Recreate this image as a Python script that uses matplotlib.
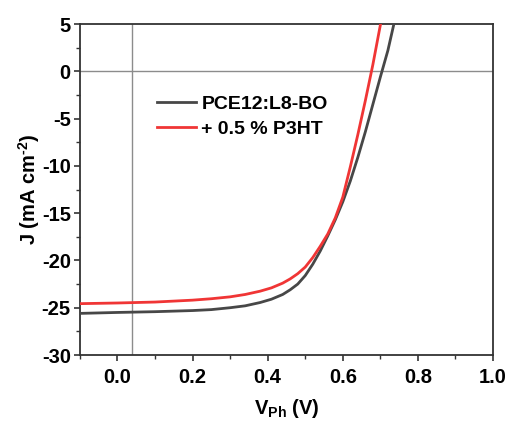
import matplotlib
matplotlib.use("Agg")
import matplotlib.pyplot as plt
from matplotlib.ticker import MultipleLocator

plt.rcParams['font.family'] = ['Liberation Sans', 'DejaVu Sans']
plt.rcParams['font.weight'] = 'bold'
plt.rcParams['axes.unicode_minus'] = False
plt.rcParams['mathtext.fontset'] = 'custom'
plt.rcParams['mathtext.rm'] = 'Liberation Sans:bold'
plt.rcParams['mathtext.default'] = 'rm'

# J-V data (V in volts, J in mA cm^-2)
v_ref = [-0.1, 0.0, 0.1, 0.2, 0.25, 0.3, 0.34, 0.38, 0.41, 0.44, 0.46, 0.48, 0.50,
         0.52, 0.54, 0.56, 0.58, 0.60, 0.62, 0.64, 0.66, 0.68, 0.70, 0.72, 0.736]
j_ref = [-25.6, -25.5, -25.42, -25.3, -25.2, -25.0, -24.8, -24.45, -24.1, -23.6, -23.1,
         -22.5, -21.6, -20.4, -19.0, -17.4, -15.7, -13.8, -11.6, -9.1, -6.4, -3.5,
         -0.6, 2.2, 5.0]

v_p3ht = [-0.1, 0.0, 0.1, 0.2, 0.25, 0.3, 0.34, 0.38, 0.41, 0.44, 0.46, 0.48, 0.50,
          0.52, 0.54, 0.56, 0.58, 0.60, 0.62, 0.64, 0.66, 0.68, 0.70]
j_p3ht = [-24.57, -24.5, -24.4, -24.2, -24.05, -23.85, -23.6, -23.25, -22.9, -22.4,
          -21.95, -21.4, -20.7, -19.7, -18.5, -17.2, -15.5, -13.3, -10.1, -6.7, -3.1,
          0.7, 4.9]

labels = ["PCE12:L8-BO", "+ 0.5 % P3HT"]
colors = ["#474747", "#f03535"]
x_marker = 0.039

fig = plt.figure(figsize=(5.12, 4.25), dpi=100)
ax = fig.add_axes([0.156, 0.1647, 0.807, 0.7788])

ax.axhline(0, color="#8c8c8c", lw=1.0, zorder=1)
ax.axvline(x_marker, color="#8c8c8c", lw=1.0, zorder=1)

ax.plot(v_ref, j_ref, color=colors[0], lw=2.0, label=labels[0], zorder=3)
ax.plot(v_p3ht, j_p3ht, color=colors[1], lw=2.0, label=labels[1], zorder=3)

ax.set_xlim(-0.1, 1.0)
ax.set_ylim(-30, 5)
ax.xaxis.set_minor_locator(MultipleLocator(0.1))
ax.yaxis.set_major_locator(MultipleLocator(5))
ax.yaxis.set_minor_locator(MultipleLocator(2.5))
ax.set_xticks([0.0, 0.2, 0.4, 0.6, 0.8, 1.0])
ax.set_xticklabels(["0.0", "0.2", "0.4", "0.6", "0.8", "1.0"])

ax.tick_params(axis='both', which='major', direction='out', length=4.5, width=1.2,
               labelsize=14.5, color="#333333")
ax.tick_params(axis='x', which='major', pad=5)
ax.tick_params(axis='y', which='major', pad=2)
ax.tick_params(axis='both', which='minor', direction='out', length=3, width=1.0,
               color="#333333")
for s in ax.spines.values():
    s.set_linewidth(1.3)
    s.set_color("#333333")

ax.set_xlabel(r"V$_{\mathregular{Ph}}$ (V)", fontsize=14.5, fontweight='bold', labelpad=7)
ax.set_ylabel("J (mA cm$^{\u2010\\mathregular{2}}$)", fontsize=14.5, fontweight='bold',
              labelpad=0)

leg = ax.legend(loc='upper left', bbox_to_anchor=(0.186, 0.785), frameon=False,
                fontsize=14, handlelength=2.0, handletextpad=0.3, labelspacing=0.4,
                borderaxespad=0, borderpad=0)

fig.savefig("out.png", dpi=100)
